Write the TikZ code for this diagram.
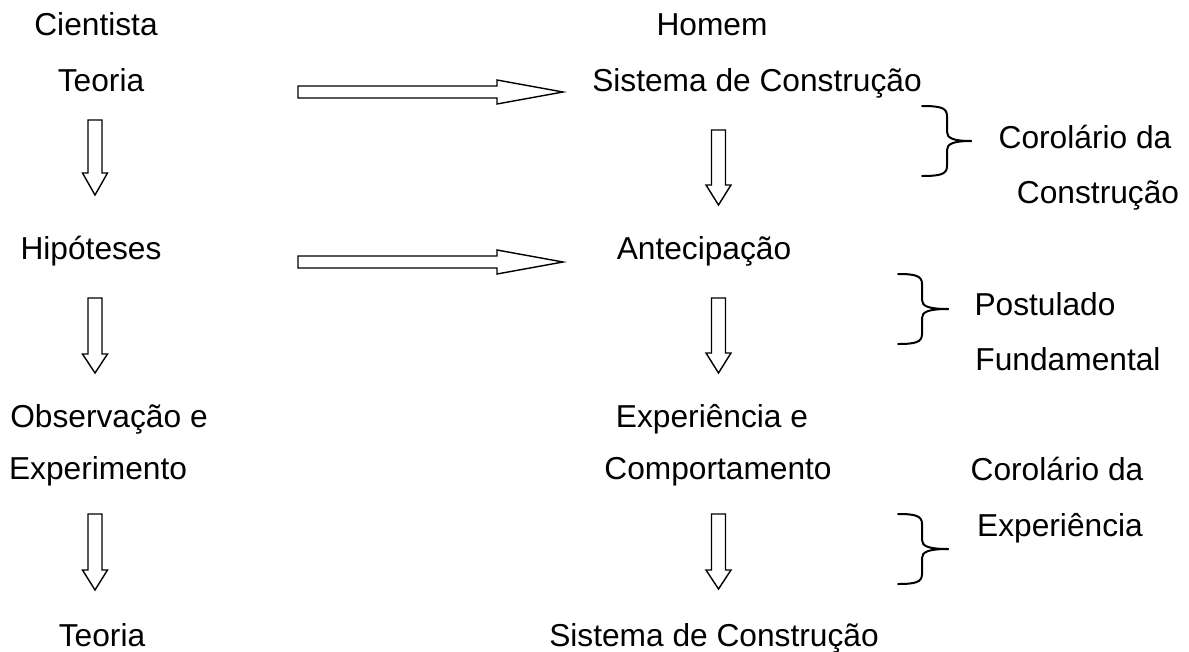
\documentclass[tikz,border=0pt]{standalone}
\usepackage{fontspec}
\setmainfont{Liberation Sans}
\begin{document}
\begin{tikzpicture}[x=1pt,y=-1pt,
  lbl/.style={inner sep=0pt,anchor=base,font=\fontsize{31.7}{38}\selectfont},
  blk/.style={draw=black,fill=white,line width=1.4pt,line join=miter},
  brc/.style={draw=black,line width=2pt,line cap=round}]
\useasboundingbox (0,0) rectangle (1189,651);
\newcommand\myvarrow[4]{\draw[blk] (#1-7,#2) -- (#1+7,#2) -- (#1+7,#3) -- (#1+12.5,#3) -- (#1,#4) -- (#1-12.5,#3) -- (#1-7,#3) -- cycle;}
\newcommand\myharrow[1]{\draw[blk] (298,#1-6) -- (497,#1-6) -- (497,#1-12) -- (563,#1) -- (497,#1+12) -- (497,#1+6) -- (298,#1+6) -- cycle;}
\newcommand\mybrace[4]{% #1 left x, #2 vertical x, #3 tip x, #4 top y; height 70
  \draw[brc] (#1,#4) .. controls (#2-6,#4) and (#2,#4+2) .. (#2,#4+10) -- (#2,#4+26) .. controls (#2,#4+32) and (#2+6,#4+35) .. (#3,#4+35);
  \draw[brc] (#1,#4+70) .. controls (#2-6,#4+70) and (#2,#4+68) .. (#2,#4+60) -- (#2,#4+44) .. controls (#2,#4+38) and (#2+6,#4+35) .. (#3,#4+35);}
% left column
\node[lbl] (cient) at (96,35) {Cientista};
\node[lbl] (teo1) at (101,91) {Teoria};
\node[lbl] (hip) at (91,259) {Hipóteses};
\node[lbl] (obs) at (109,427) {Observação e};
\node[lbl] (exp) at (98,479) {Experimento};
\node[lbl] (teo2) at (102,646) {Teoria};
% right column
\node[lbl] (hom) at (712,35) {Homem};
\node[lbl] (sis1) at (757,91) {Sistema de Construção};
\node[lbl] (ant) at (704,259) {Antecipação};
\node[lbl] (expe) at (712,427) {Experiência e};
\node[lbl] (comp) at (718,479) {Comportamento};
\node[lbl] (sis2) at (714,646) {Sistema de Construção};
% side labels
\node[lbl] (cor1) at (1085,148) {Corolário da};
\node[lbl] (cons) at (1098,203) {Construção};
\node[lbl] (post) at (1045,315) {Postulado};
\node[lbl] (fund) at (1068,370) {Fundamental};
\node[lbl] (cor2) at (1057,480) {Corolário da};
\node[lbl] (expc) at (1060,536) {Experiência};
% arrows
\myvarrow{95}{120}{173}{195}
\myvarrow{95}{298}{354}{373}
\myvarrow{95}{514}{570}{590}
\myvarrow{718.5}{130}{185}{205}
\myvarrow{718.5}{298}{353}{373}
\myvarrow{718.5}{514}{570}{589}
\myharrow{92}
\myharrow{262}
% braces
\mybrace{922}{947}{971}{106}
\mybrace{898}{922}{948}{274}
\mybrace{898}{922}{948}{514}
\end{tikzpicture}
\end{document}
